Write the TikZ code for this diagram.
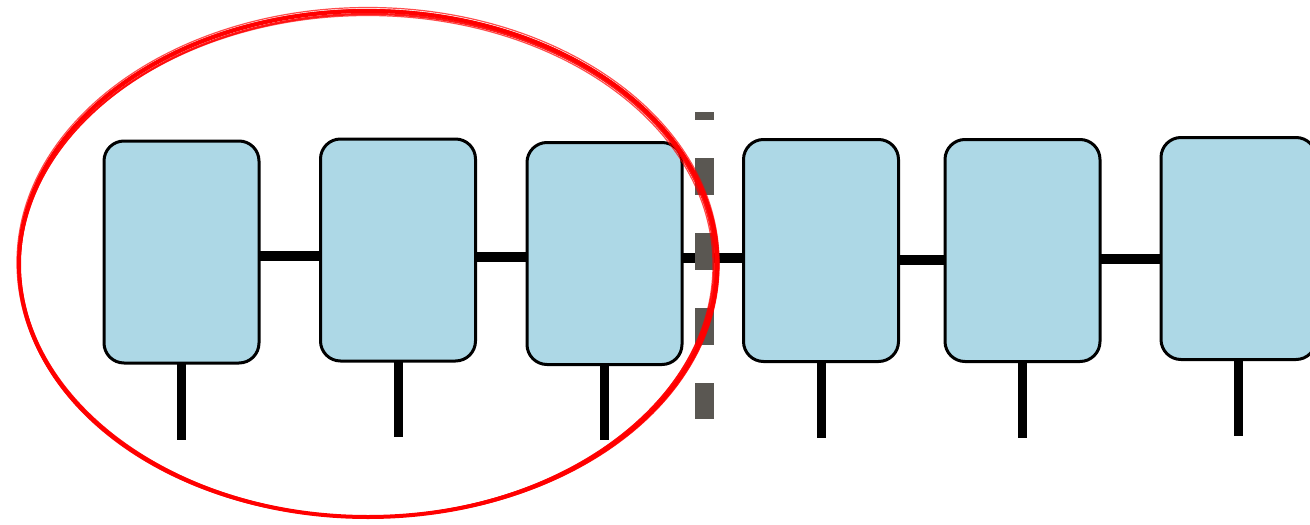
\documentclass[tikz,border=0pt]{standalone}
\usetikzlibrary{backgrounds}
\definecolor{cellfill}{HTML}{ADD8E6}
\definecolor{cutgray}{HTML}{5A5752}
\definecolor{ink}{HTML}{FF0000}
\tikzset{
  cell/.style={draw=black, line width=3pt, fill=cellfill, rounded corners=20pt,
    minimum width=155pt, minimum height=222pt, inner sep=0pt, outer sep=0pt},
  bond/.style={line width=10pt, black},
  leg/.style={line width=9pt, black},
  cutline/.style={line width=19pt, cutgray, dash pattern=on 37pt off 38pt, dash phase=29pt},
  sketch/.style={ink, line width=2.2pt, opacity=0.9}
}
\begin{document}
\begin{tikzpicture}[x=1pt,y=-1pt]
\useasboundingbox (0,0) rectangle (1310,525);
\clip (0,0) rectangle (1310,525);

% chain of cells
\node[cell] (b1) at (181.5,252) {};
\node[cell] (b2) at (398,250) {};
\node[cell] (b3) at (604.5,253.5) {};
\node[cell] (b4) at (821,250.5) {};
\node[cell] (b5) at (1022.5,250.5) {};
\node[cell] (b6) at (1238.5,248.5) {};

\begin{scope}[on background layer]
  \fill[white] (0,0) rectangle (1310,525);
  % horizontal bonds between neighbouring cells
  \draw[bond] (b1.east |- 0,256) -- (b2.west |- 0,256);
  \draw[bond] (b2.east |- 0,257) -- (b3.west |- 0,257);
  \draw[bond] (b3.east |- 0,258) -- (b4.west |- 0,258);
  \draw[bond] (b4.east |- 0,260) -- (b5.west |- 0,260);
  \draw[bond] (b5.east |- 0,259) -- (b6.west |- 0,259);
  % open legs below each cell
  \draw[leg] (b1.south) -- (b1.south |- 0,440);
  \draw[leg] (b2.south) -- (b2.south |- 0,437);
  \draw[leg] (b3.south) -- (b3.south |- 0,440);
  \draw[leg] (b4.south) -- (b4.south |- 0,438);
  \draw[leg] (b5.south) -- (b5.south |- 0,438);
  \draw[leg] (b6.south) -- (b6.south |- 0,436);
\end{scope}

% cut between the third and fourth cell
\coordinate (cutT) at (704.5,112);
\coordinate (cutB) at (704.5,419);
\draw[cutline] (cutT) -- (cutB);

% hand-drawn loop around the first three cells
\draw[ink, line width=4pt] (368,264) ellipse [x radius=349pt, y radius=253pt];
\draw[sketch] (367,265.5) ellipse [x radius=347.5pt, y radius=251.5pt, rotate=0.6];
\draw[sketch] (369,263.5) ellipse [x radius=349.5pt, y radius=253.5pt, rotate=-0.5];
\draw[sketch, line width=1.2pt, opacity=0.7] (368,262.5) ellipse [x radius=351pt, y radius=255pt];
\draw[sketch, line width=1.2pt, opacity=0.7] (366.5,266) ellipse [x radius=346.5pt, y radius=250.5pt, rotate=0.3];
\end{tikzpicture}
\end{document}
